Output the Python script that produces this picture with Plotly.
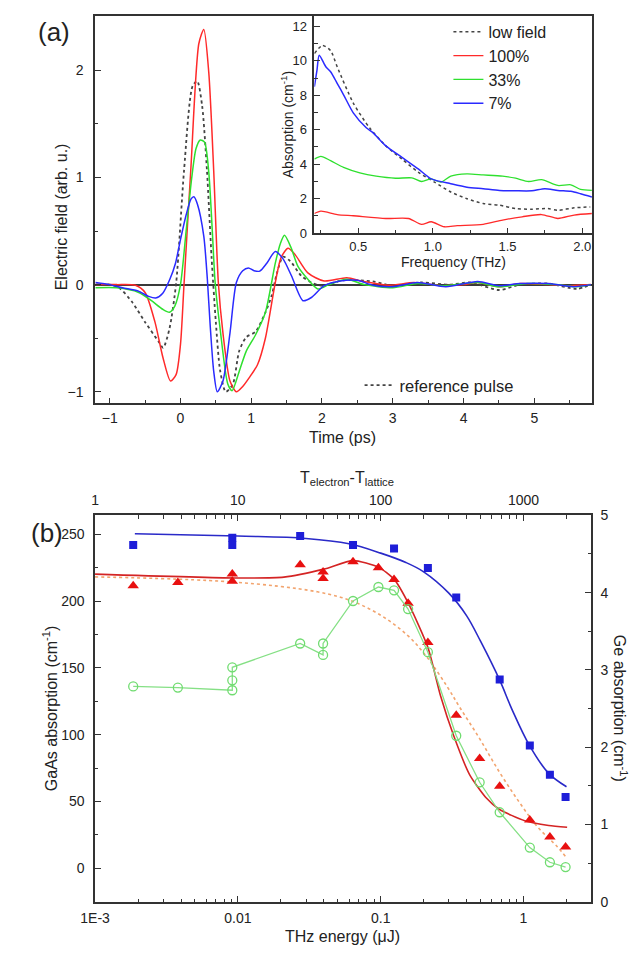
import plotly.graph_objects as go

W, H = 629, 955
def px(x): return x / W
def py(y): return 1 - y / H

# ---------------- Panel (a) main: time-domain waveforms ----------------
t_ref = [-1.2, -1.0, -0.866, -0.68, -0.5, -0.31, -0.245, -0.155, -0.06, 0.05, 0.17, 0.237, 0.306, 0.375,
         0.44, 0.5, 0.56, 0.64, 0.74, 0.83, 0.93, 1.06, 1.2, 1.29, 1.36, 1.45, 1.55, 1.71, 1.85,
         2.0, 2.3, 2.72, 3.0, 3.4, 3.8, 4.1, 4.5, 4.8, 5.2, 5.6, 5.8]
e_ref = [0.0, 0.0, -0.03, -0.165, -0.35, -0.53, -0.59, -0.41, 0.02, 1.06, 1.85, 1.9, 1.67, 1.06,
         0.25, -0.35, -0.8, -1.0, -0.93, -0.62, -0.49, -0.44, -0.26, -0.1, 0.1, 0.26, 0.22, 0.08, 0.02,
         -0.01, 0.04, 0.03, -0.01, 0.02, 0.0, 0.02, -0.05, 0.0, 0.01, -0.04, 0.0]

t_red = [-1.2, -0.9, -0.637, -0.5, -0.36, -0.246, -0.14, -0.062, 0.0, 0.05, 0.145, 0.26, 0.33, 0.40, 0.47,
         0.535, 0.6, 0.70, 0.79, 0.88, 0.97, 1.087, 1.2, 1.34, 1.42, 1.52, 1.62, 1.8, 2.03, 2.35, 2.58,
         2.95, 3.3, 3.7, 4.0, 4.2, 4.5, 4.8, 5.2, 5.5, 5.8]
e_red = [0.0, 0.0, -0.006, -0.073, -0.35, -0.685, -0.90, -0.84, -0.56, 0.0, 1.06, 2.25, 2.38, 1.98, 1.06,
         0.02, -0.45, -0.9, -1.0, -0.95, -0.87, -0.75, -0.5, 0.02, 0.25, 0.34, 0.28, 0.11, 0.034, 0.064, 0.03,
         -0.006, 0.02, -0.01, 0.0, 0.02, -0.02, 0.01, 0.0, -0.01, 0.0]

t_grn = [-1.2, -0.9, -0.59, -0.41, -0.25, -0.155, -0.08, 0.0, 0.08, 0.16, 0.22, 0.28, 0.34, 0.40, 0.45,
         0.49, 0.56, 0.67, 0.73, 0.83, 0.93, 1.06, 1.2, 1.34, 1.41, 1.47, 1.56, 1.66, 1.8, 1.94,
         2.1, 2.35, 2.6, 3.0, 3.35, 3.7, 4.2, 4.5, 4.9, 5.3, 5.6, 5.8]
e_grn = [-0.03, -0.03, -0.073, -0.15, -0.23, -0.257, -0.2, 0.0, 0.5, 1.0, 1.27, 1.35, 1.33, 1.05, 0.5,
         0.02, -0.41, -0.93, -0.99, -0.81, -0.62, -0.47, -0.26, 0.2, 0.38, 0.46, 0.35, 0.17, 0.05, -0.04,
         0.0, 0.05, 0.0, -0.03, 0.01, -0.01, 0.02, -0.02, 0.01, 0.0, -0.02, 0.0]

t_blu = [-1.2, -1.0, -0.82, -0.6, -0.45, -0.35, -0.25, -0.15, -0.07, 0.0, 0.08, 0.15, 0.19, 0.24, 0.33,
         0.38, 0.42, 0.47, 0.52, 0.6, 0.7, 0.79, 0.88, 0.96, 1.04, 1.12, 1.22, 1.34, 1.45, 1.57, 1.73,
         1.85, 2.03, 2.26, 2.5, 2.72, 3.0, 3.35, 3.75, 4.2, 4.5, 4.8, 5.2, 5.55, 5.8]
e_blu = [0.02, 0.0, -0.03, -0.06, -0.11, -0.125, -0.08, 0.05, 0.2, 0.42, 0.65, 0.8, 0.82, 0.75, 0.45,
         0.05, -0.38, -0.81, -1.0, -0.9, -0.45, 0.02, 0.13, 0.156, 0.13, 0.126, 0.2, 0.31, 0.24, 0.08, -0.15,
         -0.12, -0.01, 0.034, 0.04, -0.006, -0.02, 0.02, -0.02, 0.03, -0.01, 0.01, 0.01, -0.02, 0.0]

# ---------------- Panel (a) inset: absorption spectra ----------------
f_low = [0.2065, 0.261, 0.315, 0.359, 0.467, 0.576, 0.685, 0.793, 0.902, 1.011, 1.12, 1.228, 1.337,
         1.446, 1.554, 1.663, 1.77, 1.837, 1.946, 2.054]
a_low = [10.43, 10.9, 10.6, 9.66, 7.55, 6.11, 5.06, 4.29, 3.53, 2.95, 2.38, 1.99, 1.71,
         1.61, 1.42, 1.38, 1.42, 1.32, 1.46, 1.51]

f_100 = [0.2065, 0.25, 0.359, 0.467, 0.685, 0.837, 0.924, 0.989, 1.076, 1.163, 1.337, 1.467, 1.598,
         1.728, 1.837, 1.946, 2.065]
a_100 = [1.13, 1.27, 1.07, 1.0, 0.84, 0.84, 0.5, 0.65, 0.36, 0.42, 0.5, 0.75, 0.94,
         1.07, 0.84, 1.04, 1.13]

f_33 = [0.2065, 0.25, 0.315, 0.402, 0.511, 0.62, 0.75, 0.859, 0.924, 0.989, 1.054, 1.12, 1.228, 1.337,
        1.467, 1.554, 1.641, 1.728, 1.837, 1.924, 1.989, 2.065]
a_33 = [4.29, 4.45, 4.2, 3.81, 3.49, 3.3, 3.18, 3.2, 2.99, 3.14, 2.95, 3.3, 3.43, 3.37,
        3.3, 3.18, 2.99, 3.1, 2.76, 2.8, 2.53, 2.47]

f_7 = [0.2065, 0.224, 0.239, 0.283, 0.315, 0.359, 0.402, 0.467, 0.554, 0.598, 0.685, 0.793, 0.902,
       0.989, 1.12, 1.228, 1.337, 1.446, 1.554, 1.663, 1.75, 1.837, 1.924, 1.989, 2.065]
a_7 = [8.5, 9.47, 10.33, 9.66, 9.37, 8.7, 8.03, 6.98, 6.11, 5.83, 5.06, 4.39, 3.72,
       3.14, 2.86, 2.66, 2.57, 2.47, 2.45, 2.45, 2.57, 2.47, 2.42, 2.28, 2.09]

# ---------------- Panel (b) ----------------
e_sq = [0.00185, 0.00914, 0.00914, 0.0273, 0.064, 0.124, 0.214, 0.338, 0.681, 1.107, 1.53, 1.97]
v_sq = [242, 247.6, 242, 248.8, 242, 239.5, 224.8, 202.7, 141.4, 91.9, 69.9, 53.2]

e_sqfit = [0.0019, 0.01, 0.03, 0.06, 0.1, 0.15, 0.2, 0.3, 0.4, 0.5, 0.68, 0.83, 1.1, 1.5, 2.0]
v_sqfit = [250.5, 248.8, 247, 243, 236, 229, 222, 206, 189, 170, 141, 119, 92, 71, 61]

e_tri = [0.00185, 0.0038, 0.00914, 0.00914, 0.0273, 0.0395, 0.0395, 0.064, 0.0964, 0.124, 0.1556, 0.214,
         0.338, 0.493, 0.681, 1.107, 1.53, 1.97]
v_tri = [211.5, 214, 220.3, 215, 227.2, 221.8, 216.9, 229.6, 225, 216.2, 198.5, 169.1,
         114.5, 82.1, 61.3, 36, 23.3, 15.9]

e_trifit = [0.001, 0.0095, 0.021, 0.04, 0.064, 0.0964, 0.124, 0.156, 0.214, 0.263, 0.324, 0.42, 0.547,
            0.675, 1.02, 1.5, 2.02]
v_trifit = [220.3, 217.4, 218, 224, 230.4, 225.5, 216.5, 198.5, 165.4, 128.7, 99.3, 69.9, 52.7,
            44.1, 35.5, 32, 30.6]

e_dot = [0.001, 0.0091, 0.036, 0.064, 0.1026, 0.1556, 0.211, 0.292, 0.36, 0.493, 0.675, 0.923, 1.26, 1.73, 1.97]
v_dot = [218.2, 214.4, 207, 199.8, 188.7, 174, 158, 136, 120, 97, 72.3, 50.2, 30.6, 15.9, 8.6]

e_ge = [0.00185, 0.0038, 0.00914, 0.00914, 0.00914, 0.0273, 0.0395, 0.0395, 0.064, 0.0964, 0.124, 0.1556,
        0.214, 0.338, 0.493, 0.681, 1.107, 1.53, 1.97]
v_ge = [2.786, 2.772, 2.737, 2.865, 3.034, 3.342, 3.194, 3.342, 3.892, 4.073, 4.030, 3.787,
        3.229, 2.148, 1.546, 1.158, 0.701, 0.511, 0.449]

x_top_ticks = [1, 10, 100, 1000]
x_bot_ticks = [0.001, 0.01, 0.1, 1]
x_bot_text = ['1E-3', '0.01', '0.1', '1']

# ---------------- colours / styles ----------------
RED, GREEN, BLUE = '#ff2a2a', '#2ee02e', '#2a2aff'
FONT = 'Liberation Sans, Arial, sans-serif'
AX = '#333333'

fig = go.Figure()
sp = dict(shape='spline', smoothing=0.7)

# main (a)
fig.add_trace(go.Scatter(x=t_ref, y=e_ref, mode='lines', name='reference pulse', legend='legend2',
                         line=dict(color='#444444', width=1.8, dash='dot', **sp), xaxis='x', yaxis='y'))
fig.add_trace(go.Scatter(x=t_red, y=e_red, mode='lines', showlegend=False,
                         line=dict(color=RED, width=1.5, **sp), xaxis='x', yaxis='y'))
fig.add_trace(go.Scatter(x=t_grn, y=e_grn, mode='lines', showlegend=False,
                         line=dict(color=GREEN, width=1.5, **sp), xaxis='x', yaxis='y'))
fig.add_trace(go.Scatter(x=t_blu, y=e_blu, mode='lines', showlegend=False,
                         line=dict(color=BLUE, width=1.5, **sp), xaxis='x', yaxis='y'))

# inset
fig.add_trace(go.Scatter(x=f_low, y=a_low, mode='lines', name='low field', legend='legend',
                         line=dict(color='#444444', width=1.5, dash='dot', **sp), xaxis='x2', yaxis='y2'))
fig.add_trace(go.Scatter(x=f_100, y=a_100, mode='lines', name='100%', legend='legend',
                         line=dict(color=RED, width=1.3, **sp), xaxis='x2', yaxis='y2'))
fig.add_trace(go.Scatter(x=f_33, y=a_33, mode='lines', name='33%', legend='legend',
                         line=dict(color=GREEN, width=1.3, **sp), xaxis='x2', yaxis='y2'))
fig.add_trace(go.Scatter(x=f_7, y=a_7, mode='lines', name='7%', legend='legend',
                         line=dict(color=BLUE, width=1.5, **sp), xaxis='x2', yaxis='y2'))

# panel (b)
fig.add_trace(go.Scatter(x=e_dot, y=v_dot, mode='lines', showlegend=False,
                         line=dict(color='#f2a46e', width=1.6, dash='dot', shape='spline'), xaxis='x3', yaxis='y3'))
fig.add_trace(go.Scatter(x=e_sqfit, y=v_sqfit, mode='lines', showlegend=False,
                         line=dict(color='#2a2ac8', width=1.6, shape='spline'), xaxis='x3', yaxis='y3'))
fig.add_trace(go.Scatter(x=e_trifit, y=v_trifit, mode='lines', showlegend=False,
                         line=dict(color='#d42424', width=1.6, shape='spline', smoothing=0.6), xaxis='x3', yaxis='y3'))
fig.add_trace(go.Scatter(x=e_ge, y=v_ge, mode='lines+markers', showlegend=False,
                         line=dict(color='#85e085', width=1.3),
                         marker=dict(symbol='circle-open', size=9, color='#70dc70', line=dict(width=1.3)),
                         xaxis='x3', yaxis='y4'))
fig.add_trace(go.Scatter(x=e_sq, y=v_sq, mode='markers', showlegend=False,
                         marker=dict(symbol='square', size=8, color='#1e1ed8'), xaxis='x3', yaxis='y3'))
fig.add_trace(go.Scatter(x=e_tri, y=v_tri, mode='markers', showlegend=False,
                         marker=dict(symbol='triangle-up', size=10, color='#e81010'), xaxis='x3', yaxis='y3'))
# carrier trace for top axis
fig.add_trace(go.Scatter(x=[x_top_ticks[0]], y=[0], mode='markers', showlegend=False, hoverinfo='skip',
                         marker=dict(opacity=0), xaxis='x4', yaxis='y3'))

tickfont = dict(family=FONT, size=14, color='#222')
tickfont_in = dict(family=FONT, size=13, color='#222')
common = dict(showgrid=False, zeroline=False, showline=True, linecolor=AX, linewidth=1.5,
              ticks='inside', ticklen=6, tickwidth=1.3, tickcolor=AX)

def minor(dt=None, vals=None):
    m = dict(ticks='inside', ticklen=3.5, tickwidth=1.1, tickcolor=AX, showgrid=False)
    if dt is not None:
        m['dtick'] = dt; m['tick0'] = 0
    if vals is not None:
        m['tickvals'] = vals
    return m

xa_dom = [px(82), px(591)]
a_top = py(8.3)

logminor_b = [k * 10 ** e for e in range(-3, 1) for k in range(2, 10) if k * 10 ** e <= 2.96]
logminor_t = [k * 10 ** e for e in range(0, 4) for k in range(2, 10) if k * 10 ** e <= 2960]

fig.update_layout(
    width=W, height=H, margin=dict(l=0, r=0, t=0, b=0),
    paper_bgcolor='white', plot_bgcolor='white',
    font=dict(family=FONT, color='#222'),
    xaxis=dict(domain=xa_dom, range=[-1.207, 5.814], anchor='y', tickvals=[-1, 0, 1, 2, 3, 4, 5],
               mirror=True, minor=minor(0.5), ticklabelstandoff=1, tickfont=tickfont, **common),
    yaxis=dict(domain=[py(402), a_top], range=[-1.107, 2.505], anchor='x', tickvals=[-1, 0, 1, 2],
               mirror=True, minor=minor(0.5), ticklabelstandoff=7, tickfont=tickfont,
               **{k: v for k, v in common.items() if k != 'zeroline'},
               zeroline=True, zerolinecolor='#3a3a3a', zerolinewidth=2),
    xaxis2=dict(domain=[px(306.7), px(591)], range=[0.2065, 2.065], anchor='y2',
                tickvals=[0.5, 1.0, 1.5, 2.0], ticktext=['0.5', '1.0', '1.5', '2.0'],
                mirror=True, minor=minor(0.25), ticklabelstandoff=0, tickfont=tickfont_in, **common),
    yaxis2=dict(domain=[py(229.3), a_top], range=[-0.03, 12.6], anchor='x2',
                tickvals=[0, 2, 4, 6, 8, 10, 12], mirror=True, minor=minor(1), ticklabelstandoff=3,
                tickfont=tickfont_in, **common),
    xaxis3=dict(domain=[px(82), px(590)], type='log', range=[-3, 0.472], anchor='y3',
                tickvals=x_bot_ticks, ticktext=x_bot_text, minor=minor(vals=logminor_b),
                ticklabelstandoff=3, tickfont=tickfont, **common),
    xaxis4=dict(type='log', range=[0, 3.472], overlaying='x3', anchor='y3', side='top',
                tickvals=x_top_ticks, ticktext=['1', '10', '100', '1000'], minor=minor(vals=logminor_t),
                ticklabelstandoff=3, tickfont=tickfont, **common),
    yaxis3=dict(domain=[py(909), py(516)], range=[-25.2, 264.3], anchor='x3',
                tickvals=[0, 50, 100, 150, 200, 250], minor=minor(25), ticklabelstandoff=6,
                tickfont=tickfont, **common),
    yaxis4=dict(range=[0, 5], overlaying='y3', anchor='x3', side='right',
                tickvals=[0, 1, 2, 3, 4, 5], minor=minor(0.5), ticklabelstandoff=5, tickfont=tickfont, **common),
    legend=dict(x=px(444), y=py(7), xanchor='left', yanchor='top', bgcolor='rgba(0,0,0,0)',
                font=dict(family=FONT, size=16, color='#222'), tracegroupgap=0),
    legend2=dict(x=px(353), y=py(366), xanchor='left', yanchor='top', bgcolor='rgba(0,0,0,0)',
                 font=dict(family=FONT, size=16.5, color='#222')),
)

ann = [
    dict(text='(a)', x=px(40), y=py(24), font=dict(size=26)),
    dict(text='(b)', x=px(33), y=py(534), font=dict(size=26)),
    dict(text='Time (ps)', x=px(336), y=py(437), font=dict(size=16)),
    dict(text='Electric field (arb. u.)', x=px(48), y=py(212), textangle=-90, font=dict(size=16)),
    dict(text='Frequency (THz)', x=px(449), y=py(258), font=dict(size=14)),
    dict(text='Absorption (cm<sup>-1</sup>)', x=px(279), y=py(118), textangle=-90, font=dict(size=14)),
    dict(text='T<sub>electron</sub>-T<sub>lattice</sub>', x=px(340), y=py(479), font=dict(size=16)),
    dict(text='THz energy (\u03bcJ)', x=px(336), y=py(944), font=dict(size=16)),
    dict(text='GaAs absorption (cm<sup>-1</sup>)', x=px(36), y=py(712), textangle=-90, font=dict(size=16)),
    dict(text='Ge absorption (cm<sup>-1</sup>)', x=px(620), y=py(712), textangle=90, font=dict(size=16)),
]
for a in ann:
    a.update(xref='paper', yref='paper', showarrow=False, xanchor='center', yanchor='middle')
    a['font'] = dict(family=FONT, color='#222', **a['font'])
fig.update_layout(annotations=ann)

fig.write_html('out.html')
